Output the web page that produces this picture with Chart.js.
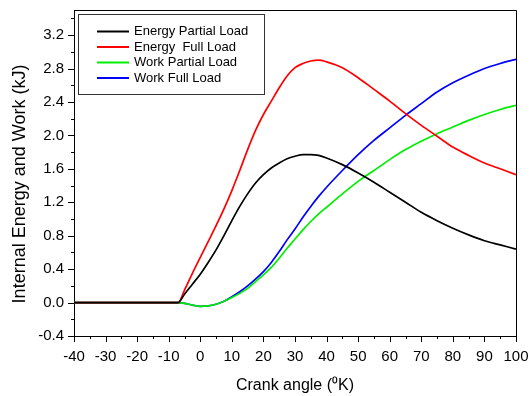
<!DOCTYPE html>
<html>
<head>
<meta charset="utf-8">
<script src="https://cdn.jsdelivr.net/npm/chart.js@4.4.0/dist/chart.umd.min.js"></script>
<style>
  html, body { margin: 0; padding: 0; background: #fff; }
  #wrap { width: 529px; height: 396px; }
</style>
</head>
<body>
<div id="wrap"><canvas id="grafico"></canvas></div>
<script>
// crank angle (deg) and the four curves
const angulos = [-40, -7, -5, -2.5, 0, 2.5, 5, 7.5, 10, 12.5, 15, 17.5, 20, 22.5, 25, 27.5, 30, 32.5, 35, 37.5, 40, 45, 50, 55, 60, 65, 70, 75, 80, 85, 90, 95, 100];
const energiaParcial = [0, 0, 0.1, 0.22, 0.34, 0.48, 0.63, 0.8, 0.98, 1.15, 1.3, 1.43, 1.53, 1.61, 1.67, 1.72, 1.75, 1.77, 1.77, 1.76, 1.73, 1.65, 1.55, 1.44, 1.32, 1.2, 1.08, 0.98, 0.89, 0.81, 0.74, 0.69, 0.64];
const energiaTotal = [0, 0, 0.15, 0.35, 0.54, 0.73, 0.92, 1.12, 1.34, 1.58, 1.83, 2.06, 2.25, 2.41, 2.57, 2.71, 2.81, 2.86, 2.89, 2.9, 2.88, 2.81, 2.69, 2.55, 2.41, 2.26, 2.12, 1.99, 1.86, 1.76, 1.67, 1.6, 1.53];
const trabalhoParcial = [0, 0, -0.01, -0.03, -0.045, -0.04, -0.02, 0.015, 0.06, 0.11, 0.17, 0.25, 0.33, 0.42, 0.53, 0.65, 0.76, 0.87, 0.97, 1.06, 1.14, 1.3, 1.45, 1.58, 1.71, 1.83, 1.93, 2.02, 2.1, 2.18, 2.25, 2.31, 2.36];
const trabalhoTotal = [0, 0, -0.01, -0.03, -0.045, -0.04, -0.02, 0.015, 0.07, 0.13, 0.2, 0.28, 0.37, 0.48, 0.61, 0.75, 0.88, 1.02, 1.15, 1.27, 1.38, 1.58, 1.77, 1.94, 2.09, 2.24, 2.38, 2.52, 2.63, 2.72, 2.8, 2.86, 2.91];

const nomes = ['Energy Partial Load', 'Energy  Full Load', 'Work Partial Load', 'Work Full Load'];
const cores = ['#000000', '#ff0000', '#00ee00', '#0000ff'];
const series = [energiaParcial, energiaTotal, trabalhoParcial, trabalhoTotal];

const fonte = 'Arial, "Liberation Sans", sans-serif';

function pontos(valores) {
  return angulos.map((a, i) => ({ x: a, y: valores[i] }));
}

// ticks, box, legend and axis titles drawn by hand
const extras = {
  id: 'extras',
  afterDraw(chart) {
    const ctx = chart.ctx;
    const a = chart.chartArea;
    const sx = chart.scales.x;
    const sy = chart.scales.y;
    ctx.save();
    ctx.strokeStyle = '#000';
    ctx.lineWidth = 1;

    // frame top/right
    ctx.beginPath();
    ctx.moveTo(a.left, a.top + 0.5);
    ctx.lineTo(a.right + 0.5, a.top + 0.5);
    ctx.lineTo(a.right + 0.5, a.bottom);
    ctx.stroke();

    // y ticks
    for (let k = -2; k <= 17; k++) {
      const py = Math.round(sy.getPixelForValue(k * 0.2)) + 0.5;
      const len = (k % 2 === 0) ? 6 : 3;
      ctx.beginPath();
      ctx.moveTo(a.left, py);
      ctx.lineTo(a.left - len, py);
      ctx.stroke();
    }
    // x ticks
    for (let k = -8; k <= 20; k++) {
      const px = Math.round(sx.getPixelForValue(k * 5)) + 0.5;
      const len = (k % 2 === 0) ? 6 : 3;
      ctx.beginPath();
      ctx.moveTo(px, a.bottom);
      ctx.lineTo(px, a.bottom + len);
      ctx.stroke();
    }

    // legend
    const lx = a.left + 4, ly = a.top + 4, lw = 186, lh = 80;
    ctx.fillStyle = '#fff';
    ctx.fillRect(lx, ly, lw, lh);
    ctx.strokeStyle = '#333';
    ctx.strokeRect(lx + 0.5, ly + 0.5, lw, lh);
    ctx.font = '13px ' + fonte;
    ctx.textBaseline = 'middle';
    ctx.textAlign = 'left';
    chart.data.datasets.forEach((ds, i) => {
      const yy = ly + 17.5 + i * 15.5;
      ctx.strokeStyle = ds.borderColor;
      ctx.lineWidth = 2;
      ctx.beginPath();
      ctx.moveTo(lx + 19, yy);
      ctx.lineTo(lx + 51, yy);
      ctx.stroke();
      ctx.fillStyle = '#000';
      ctx.fillText(ds.label, lx + 56, yy);
    });

    // axis titles
    ctx.fillStyle = '#000';
    ctx.font = '16px ' + fonte;
    ctx.textAlign = 'center';
    ctx.textBaseline = 'alphabetic';
    ctx.fillText('Crank angle (\u2070K)', (a.left + a.right) / 2, 390);

    ctx.translate(25, 184);
    ctx.rotate(-Math.PI / 2);
    ctx.font = '18px ' + fonte;
    ctx.fillText('Internal Energy and Work (kJ)', 0, 0);
    ctx.restore();
  }
};

const ctx = document.getElementById('grafico').getContext('2d');
new Chart(ctx, {
  type: 'line',
  data: {
    datasets: series.map((s, i) => ({
      label: nomes[i],
      data: pontos(s),
      borderColor: cores[i],
      backgroundColor: cores[i],
      borderWidth: 1.7,
      pointRadius: 0,
      cubicInterpolationMode: 'monotone',
      fill: false
    }))
  },
  options: {
    responsive: true,
    maintainAspectRatio: false,
    animation: false,
    layout: {
      padding: { top: 10, right: 13, left: 0, bottom: 0 }
    },
    scales: {
      x: {
        type: 'linear',
        min: -40,
        max: 100,
        afterFit: s => { s.height = 60; s.paddingLeft = 0; s.paddingRight = 0; },
        grid: { display: false, drawTicks: false },
        border: { display: true, color: '#000', width: 1 },
        ticks: {
          stepSize: 5,
          padding: 12,
          color: '#000',
          font: { family: fonte, size: 15 },
          maxRotation: 0,
          autoSkip: false,
          callback: v => (v % 10 === 0 ? String(v) : '')
        }
      },
      y: {
        min: -0.4,
        max: 3.5,
        afterFit: s => { s.width = 74; s.paddingTop = 0; s.paddingBottom = 0; },
        grid: { display: false, drawTicks: false },
        border: { display: true, color: '#000', width: 1 },
        ticks: {
          stepSize: 0.2,
          padding: 10,
          color: '#000',
          font: { family: fonte, size: 15 },
          autoSkip: false,
          callback: v => {
            const r = v / 0.4;
            return Math.abs(r - Math.round(r)) < 1e-6 && v < 3.45 ? v.toFixed(1) : '';
          }
        }
      }
    },
    plugins: {
      legend: { display: false },
      tooltip: { enabled: false }
    }
  },
  plugins: [extras]
});
</script>
</body>
</html>
